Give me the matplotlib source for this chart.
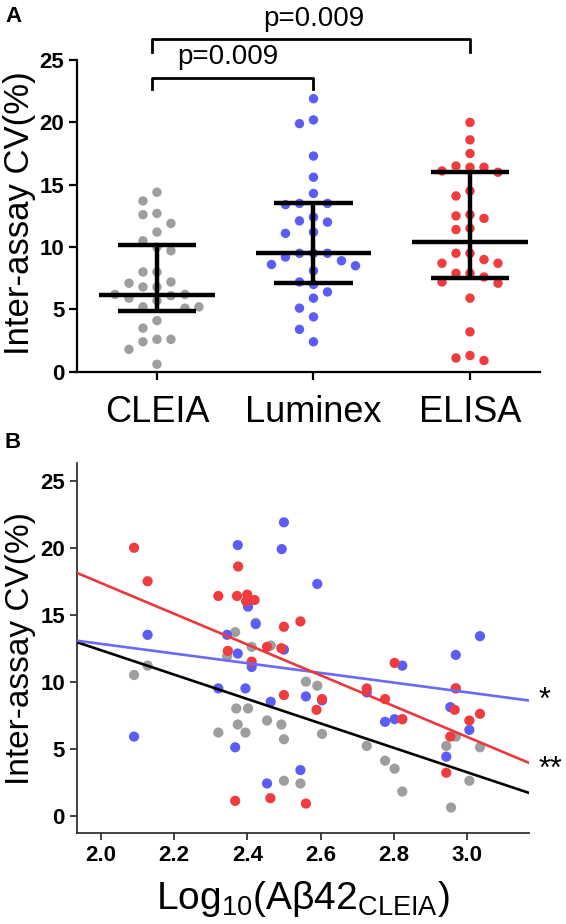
import numpy as np
import matplotlib
matplotlib.use('Agg')
import matplotlib.pyplot as plt

plt.rcParams['font.family'] = ['Liberation Sans', 'DejaVu Sans']
plt.rcParams['mathtext.fontset'] = 'custom'
plt.rcParams['mathtext.rm'] = 'Liberation Sans'
plt.rcParams['mathtext.it'] = 'Liberation Sans:italic'
plt.rcParams['mathtext.bf'] = 'Liberation Sans:bold'

# 数据: log10(Aβ42 CLEIA) 与 各方法的 inter-assay CV(%)
cleia_x = [2.423, 2.367, 2.345, 2.412, 2.464, 2.128, 2.091, 2.560, 2.591, 2.370,
           2.402, 2.374, 2.454, 2.493, 2.321, 2.395, 2.604, 2.500, 2.726, 2.943,
           3.035, 2.969, 2.776, 2.802, 2.823, 2.500, 2.545, 3.006, 2.956, 2.823]
cleia_cv = [14.4, 13.7, 11.9, 12.6, 12.7, 11.2, 10.5, 10.0, 9.7, 8.0,
            8.0, 6.8, 7.1, 6.8, 6.2, 6.2, 6.1, 5.7, 5.2, 5.2,
            5.1, 5.9, 4.1, 3.5, 1.8, 2.6, 2.4, 2.6, 0.6, 7.2]

luminex_x = [2.500, 2.374, 2.494, 2.591, 2.402, 2.423, 2.128, 2.345, 3.035, 2.969,
             2.374, 2.500, 2.412, 2.823, 2.321, 2.395, 2.969, 2.726, 2.560, 2.464,
             2.604, 2.776, 2.802, 2.954, 3.006, 2.943, 2.367, 2.545, 2.454, 2.091]
luminex_cv = [21.9, 20.2, 19.9, 17.3, 15.6, 14.3, 13.5, 13.5, 13.4, 12.0,
              12.1, 12.4, 11.1, 11.2, 9.5, 9.5, 9.5, 9.2, 8.9, 8.5,
              8.6, 7.0, 7.2, 8.1, 6.4, 4.4, 5.1, 3.4, 2.4, 5.9]

elisa_x = [2.091, 2.128, 2.375, 2.321, 2.372, 2.400, 2.420, 2.397, 2.545, 2.500,
           2.454, 2.493, 2.347, 2.412, 2.802, 2.969, 2.726, 2.500, 2.604, 2.776,
           2.589, 2.966, 3.035, 2.823, 3.006, 2.954, 2.943, 2.463, 2.367, 2.560]
elisa_cv = [20.0, 17.5, 18.6, 16.4, 16.4, 16.5, 16.1, 16.0, 14.5, 14.1,
            12.6, 12.5, 12.3, 11.5, 11.4, 9.5, 9.5, 9.0, 8.7, 8.7,
            7.9, 7.9, 7.6, 7.2, 7.1, 5.9, 3.2, 1.3, 1.1, 0.9]

groups = ['CLEIA', 'Luminex', 'ELISA']
medians = [6.15, 9.55, 10.4]
q1 = [4.9, 7.15, 7.55]
q3 = [10.15, 13.55, 16.05]
p_labels = ['p=0.009', 'p=0.009']

colors = ['#9e9e9e', '#5c5cf6', '#f03c3e']
line_colors = ['black', '#6a6af4', '#e9393f']
stars = ['', '*', '**']

all_x = [cleia_x, luminex_x, elisa_x]
all_cv = [cleia_cv, luminex_cv, elisa_cv]

fig = plt.figure(figsize=(5.66, 9.24), dpi=100)


def swarm_offsets(ax, values, step_px=14.0, min_px=13.0):
    # 简单的 beeswarm: 在像素空间中按行排开
    values = np.asarray(values, dtype=float)
    ypix = ax.transData.transform(np.column_stack([np.zeros_like(values), values]))[:, 1]
    x0 = ax.transData.transform((0, 0))[0]
    x1 = ax.transData.transform((1, 0))[0]
    px_per_unit = x1 - x0
    offs = np.zeros(len(values))
    placed = []
    cands = [0]
    for k in range(1, 12):
        cands += [-k, k]
    for i in np.argsort(-values):
        for c in cands:
            ox = c * step_px
            ok = True
            for j in placed:
                if (ox - offs[j]) ** 2 + (ypix[i] - ypix[j]) ** 2 < min_px ** 2:
                    ok = False
                    break
            if ok:
                offs[i] = ox
                break
        placed.append(i)
    return offs / px_per_unit


# ---------------- A ----------------
axA = fig.add_axes([0.136, 0.5977, 0.818, 0.3373])
axA.set_xlim(-0.511, 2.447)
axA.set_ylim(0, 25)
for s in ['top', 'right']:
    axA.spines[s].set_visible(False)
for s in ['left', 'bottom']:
    axA.spines[s].set_linewidth(1.6)

for i, cv in enumerate(all_cv):
    dx = swarm_offsets(axA, cv)
    axA.scatter(i + dx, cv, s=46, color=colors[i], edgecolors='none', zorder=2, clip_on=False)
    axA.hlines(medians[i], i - 0.37, i + 0.37, color='black', lw=3.2, zorder=3)
    axA.hlines([q1[i], q3[i]], i - 0.25, i + 0.25, color='black', lw=3.2, zorder=3)
    axA.vlines(i, q1[i], q3[i], color='black', lw=3.2, zorder=3)

axA.set_xticks(range(3))
axA.set_xticklabels(groups, fontsize=26)
axA.set_yticks([0, 5, 10, 15, 20, 25])
axA.tick_params(axis='y', labelsize=16, width=1.6, length=6, pad=3)
axA.tick_params(axis='x', width=1.6, length=6, pad=11)
for t in axA.get_yticklabels():
    t.set_fontweight('bold')
axA.set_ylabel('Inter-assay CV(%)', fontsize=25)
axA.yaxis.set_label_coords(-0.088, 0.51)

# 显著性括号
brackets = [(0, 1, 23.6, 22.7), (0, 2, 26.65, 25.65)]
for k, (a, b, top, low) in enumerate(brackets):
    axA.plot([a - 0.03, a - 0.03, b, b], [low, top, top, low], color='black', lw=2.0, clip_on=False)
    axA.text((a + b) / 2 - 0.05 * (k == 0), top + 0.6, p_labels[k], ha='center', va='bottom',
             fontsize=20, clip_on=False)

fig.text(0.01, 0.993, 'A', fontsize=16, fontweight='bold', va='top')

# ---------------- B ----------------
axB = fig.add_axes([0.1355, 0.0982, 0.7996, 0.401])
axB.set_xlim(1.9345, 3.1695)
axB.set_ylim(-1.32, 26.35)
for s in ['top', 'right']:
    axB.spines[s].set_visible(False)
for s in ['left', 'bottom']:
    axB.spines[s].set_linewidth(1.3)
    axB.spines[s].set_color('#333333')

for i in range(3):
    axB.scatter(all_x[i], all_cv[i], s=54, color=colors[i], edgecolors='none', zorder=2)

xx = np.array(axB.get_xlim())
for i in range(3):
    coef = np.polyfit(all_x[i], all_cv[i], 1)
    yy = np.polyval(coef, xx)
    axB.plot(xx, yy, color=line_colors[i], lw=1.9, zorder=3)
    if stars[i]:
        dy = 0 if i == 1 else -5
        axB.annotate(stars[i], xy=(xx[1], yy[1]), xytext=(7, dy), textcoords='offset points',
                     ha='left', va='center', fontsize=22, annotation_clip=False)

axB.set_xticks([2.0, 2.2, 2.4, 2.6, 2.8, 3.0])
axB.set_xticklabels(['2.0', '2.2', '2.4', '2.6', '2.8', '3.0'])
axB.set_yticks([0, 5, 10, 15, 20, 25])
axB.tick_params(labelsize=16, width=1.3, length=5, color='#333333')
for t in axB.get_xticklabels() + axB.get_yticklabels():
    t.set_fontweight('bold')
axB.set_ylabel('Inter-assay CV(%)', fontsize=24)
axB.yaxis.set_label_coords(-0.09, 0.5)
axB.set_xlabel('Log$_{10}$(A\u03b242$_{\\mathrm{CLEIA}}$)', fontsize=28, labelpad=9)

fig.text(0.008, 0.533, 'B', fontsize=16, fontweight='bold', va='top')

fig.savefig('out.png', dpi=100)
